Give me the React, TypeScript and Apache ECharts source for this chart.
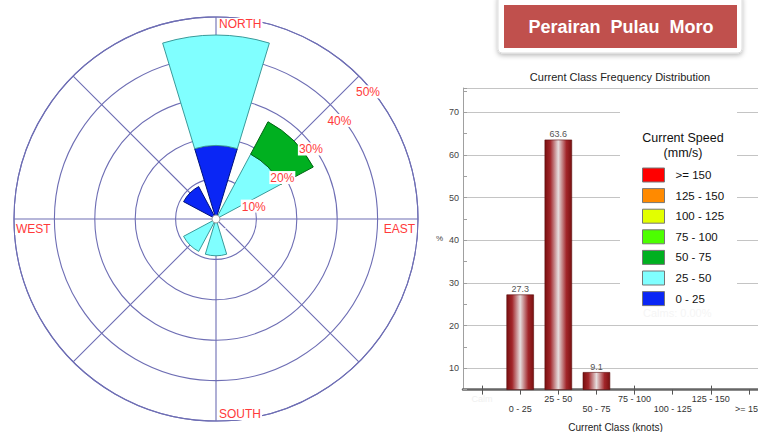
import React, { useEffect, useRef } from 'react';
import * as echarts from 'echarts';

// ---- wind rose data (frequency in % per direction, per current speed class) ----
const directions = ['N', 'NE', 'E', 'SE', 'S', 'SW', 'W', 'NW'];
const speedClasses = ['0 - 25', '25 - 50', '50 - 75', '75 - 100', '100 - 125', '125 - 150', '>= 150'];
const speedColors = ['#0a26f5', '#80ffff', '#00b020', '#4cff00', '#e2ff00', '#ff8a00', '#ff0000'];
const speedBorders = ['#00127a', '#3a9a9a', '#006412', '#2a9000', '#8a9a00', '#a05a00', '#a00000'];
const freq0to25 = [18.2, 0, 0, 0, 0, 0, 0, 9.1];
const freq25to50 = [27.3, 18.2, 0, 0, 9.1, 9.1, 0, 0];
const freq50to75 = [0, 9.1, 0, 0, 0, 0, 0, 0];
const freq75to100 = [0, 0, 0, 0, 0, 0, 0, 0];
const freq100to125 = [0, 0, 0, 0, 0, 0, 0, 0];
const freq125to150 = [0, 0, 0, 0, 0, 0, 0, 0];
const freqOver150 = [0, 0, 0, 0, 0, 0, 0, 0];
const roseFreqs = [freq0to25, freq25to50, freq50to75, freq75to100, freq100to125, freq125to150, freqOver150];
const roseMax = 50;
const roseStep = 10;
const compassNames = ['NORTH', 'EAST', 'SOUTH', 'WEST'];

// ---- class frequency distribution ----
const classCategories = ['Calm', '0 - 25', '25 - 50', '50 - 75', '75 - 100', '100 - 125', '125 - 150', '>= 150'];
const classFrequency = [0, 27.3, 63.6, 9.1, 0, 0, 0, 0];
const freqAxisMin = 5;
const freqAxisMax = 75.7;
const freqAxisStep = 5;

const headerText = 'Perairan  Pulau  Moro';
const barTitle = 'Current Class Frequency Distribution';
const legendTitle = 'Current Speed\n(mm/s)';
const calmsNote = 'Calms: 0.00%';

const FONT = '"Liberation Sans", Arial, sans-serif';
const RED_LABEL = '#ff3a3a';
const GRID_BLUE = '#6e6eb4';

// rose geometry
const CX = 216;
const CY = 219;
const R = 202;

const blank = (v: number) => (v === 0 ? '-' : v);

export default function App() {
  const ref = useRef<HTMLDivElement>(null);

  useEffect(() => {
    if (!ref.current) return;
    const chart = echarts.init(ref.current, undefined, { renderer: 'svg' });

    const roseSeries = speedClasses.map((name, i) => ({
      name,
      type: 'bar',
      coordinateSystem: 'polar',
      polarIndex: 1,
      stack: 'rose',
      barCategoryGap: '25%',
      data: roseFreqs[i].map(blank),
      itemStyle: { color: speedColors[i], borderColor: speedBorders[i], borderWidth: 1 },
      z: 3,
    }));

    const barGradient = new echarts.graphic.LinearGradient(0, 0, 1, 0, [
      { offset: 0, color: '#7a1010' },
      { offset: 0.2, color: '#a2262a' },
      { offset: 0.5, color: '#e6dede' },
      { offset: 0.8, color: '#a2262a' },
      { offset: 1, color: '#7a1010' },
    ]);

    const compassPos: Record<string, any> = {
      NORTH: { x: CX + 2, y: CY - R + 1, align: 'left', verticalAlign: 'top' },
      EAST: { x: CX + R - 2, y: CY + 4, align: 'right', verticalAlign: 'top' },
      SOUTH: { x: CX + 2, y: CY + R - 1, align: 'left', verticalAlign: 'bottom' },
      WEST: { x: CX - R + 1, y: CY + 4, align: 'left', verticalAlign: 'top' },
    };

    const option: any = {
      animation: false,
      backgroundColor: '#ffffff',
      textStyle: { fontFamily: FONT },
      polar: [
        { center: [CX, CY], radius: [0, R] },
        { center: [CX, CY], radius: [0, R] },
        { center: [CX, CY], radius: [0, R] },
      ],
      angleAxis: [
        {
          polarIndex: 0,
          type: 'value',
          min: 0,
          max: 360,
          interval: 45,
          startAngle: 90,
          axisLine: { show: true, lineStyle: { color: GRID_BLUE, width: 1.1 } },
          axisTick: { show: false },
          axisLabel: { show: false },
          splitLine: { show: true, lineStyle: { color: GRID_BLUE, width: 1.1 } },
          z: 0,
        },
        {
          polarIndex: 1,
          type: 'category',
          data: directions,
          startAngle: 112.5,
          axisLine: { show: false },
          axisTick: { show: false },
          axisLabel: { show: false },
          splitLine: { show: false },
        },
        {
          polarIndex: 2,
          type: 'value',
          min: 0,
          max: 360,
          startAngle: 45,
          axisLine: { show: false },
          axisTick: { show: false },
          axisLabel: { show: false },
          splitLine: { show: false },
        },
      ],
      radiusAxis: [
        {
          polarIndex: 0,
          min: 0,
          max: roseMax,
          interval: roseStep,
          axisLine: { show: false },
          axisTick: { show: false },
          axisLabel: { show: false },
          splitLine: { show: true, lineStyle: { color: GRID_BLUE, width: 1.1 } },
          z: 0,
        },
        {
          polarIndex: 1,
          min: 0,
          max: roseMax,
          axisLine: { show: false },
          axisTick: { show: false },
          axisLabel: { show: false },
          splitLine: { show: false },
        },
        {
          polarIndex: 2,
          min: 0,
          max: roseMax,
          interval: roseStep,
          axisLine: { show: false },
          axisTick: { show: false },
          splitLine: { show: false },
          axisLabel: {
            show: true,
            formatter: (v: number) => (v === 0 ? '' : `${v}%`),
            color: RED_LABEL,
            fontSize: 12,
            fontFamily: FONT,
            backgroundColor: '#ffffff',
            padding: [1, 1, 0, 1],
            margin: -13,
            align: 'center',
            verticalAlign: 'top',
          },
          z: 10,
        },
      ],
      grid: {
        left: 463,
        right: -10,
        top: 88,
        bottom: 42.4,
        containLabel: false,
        outerBoundsMode: 'none',
      },
      xAxis: [
        {
          type: 'category',
          data: classCategories.map((c) =>
            c === 'Calm' ? { value: c, textStyle: { color: '#f0f0f0' } } : c
          ),
          axisLine: { show: true, lineStyle: { color: '#666666', width: 2.5 } },
          axisTick: { show: true, alignWithLabel: true, length: 5, lineStyle: { color: '#555555' } },
          axisLabel: {
            interval: 0,
            fontSize: 9,
            color: '#333333',
            lineHeight: 10,
            margin: 4,
            formatter: (v: string, idx: number) => (idx % 2 === 1 ? `\n${v}` : v),
          },
          name: 'Current Class (knots)',
          nameLocation: 'middle',
          nameGap: 33,
          nameTextStyle: { fontSize: 10, color: '#222222', fontFamily: FONT },
          splitLine: { show: false },
        },
        {
          type: 'category',
          data: classCategories,
          position: 'bottom',
          axisLine: { show: false },
          axisTick: { show: true, inside: true, alignWithLabel: true, length: 4, lineStyle: { color: '#555555' } },
          axisLabel: { show: false },
          splitLine: { show: false },
        },
      ],
      yAxis: {
        type: 'value',
        min: freqAxisMin,
        max: freqAxisMax,
        interval: freqAxisStep,
        axisLine: { show: true, lineStyle: { color: '#a0a0a0', width: 1 } },
        axisTick: { show: true, inside: true, length: 4, lineStyle: { color: '#a0a0a0' } },
        axisLabel: {
          fontSize: 9,
          color: '#444444',
          margin: 4,
          formatter: (v: number) => (v % 10 === 0 ? `${v}` : ''),
        },
        splitLine: { show: true, lineStyle: { color: ['rgba(0,0,0,0)', '#c4c4c4'], width: 1.2 } },
        name: '%',
        nameLocation: 'middle',
        nameRotate: 0,
        nameGap: 20,
        nameTextStyle: { fontSize: 8, color: '#444444', padding: [20, 0, 0, 0] },
      },
      legend: {
        orient: 'vertical',
        left: 642,
        top: 167.5,
        padding: 0,
        itemWidth: 22,
        itemHeight: 14,
        itemGap: 5.6,
        icon: 'rect',
        selectedMode: false,
        data: [...speedClasses].reverse(),
        itemStyle: { borderColor: '#777777', borderWidth: 1 },
        textStyle: { fontSize: 11.5, color: '#111111', fontFamily: FONT, padding: [0, 0, 0, 6] },
        z: 10,
      },
      series: [
        ...roseSeries,
        {
          name: 'Frequency',
          type: 'bar',
          xAxisIndex: 0,
          yAxisIndex: 0,
          barWidth: '72%',
          data: classFrequency.map(blank),
          itemStyle: { color: barGradient, borderColor: '#5a0c0c', borderWidth: 0.6 },
          label: {
            show: true,
            position: 'top',
            distance: 1,
            fontSize: 9,
            color: '#555555',
            fontFamily: FONT,
          },
          z: 3,
        },
      ],
      graphic: [
        // center hub of the rose
        {
          type: 'circle',
          shape: { cx: CX, cy: CY, r: 4 },
          style: { fill: '#ffffff', stroke: '#9a9a9a', lineWidth: 1 },
          z: 20,
        },
        ...compassNames.map((name) => ({
          type: 'text',
          x: compassPos[name].x,
          y: compassPos[name].y,
          z: 20,
          style: {
            text: name,
            fill: RED_LABEL,
            font: `12px ${FONT}`,
            align: compassPos[name].align,
            verticalAlign: compassPos[name].verticalAlign,
            backgroundColor: '#ffffff',
            padding: [0, 1],
          },
        })),
        // header banner
        {
          type: 'rect',
          shape: { x: 498, y: -6, width: 244, height: 59, r: 4 },
          style: {
            fill: '#ffffff',
            stroke: '#dddddd',
            lineWidth: 1,
            shadowBlur: 5,
            shadowOffsetY: 2,
            shadowColor: 'rgba(0,0,0,0.28)',
          },
          z: 20,
        },
        {
          type: 'rect',
          shape: { x: 504, y: 5, width: 233, height: 43 },
          style: { fill: '#c0504d' },
          z: 21,
        },
        {
          type: 'text',
          x: 621,
          y: 26.5,
          z: 22,
          style: {
            text: headerText,
            fill: '#ffffff',
            font: `bold 18px ${FONT}`,
            align: 'center',
            verticalAlign: 'middle',
          },
        },
        {
          type: 'text',
          x: 620,
          y: 77,
          z: 20,
          style: {
            text: barTitle,
            fill: '#222222',
            font: `11px ${FONT}`,
            align: 'center',
            verticalAlign: 'middle',
          },
        },
        // legend panel
        {
          type: 'rect',
          shape: { x: 620, y: 112, width: 117, height: 208 },
          style: { fill: '#ffffff' },
          z: 5,
        },
        {
          type: 'text',
          x: 683,
          y: 145,
          z: 20,
          style: {
            text: legendTitle,
            fill: '#111111',
            font: `12.5px ${FONT}`,
            lineHeight: 15,
            align: 'center',
            verticalAlign: 'middle',
          },
        },
        {
          type: 'text',
          x: 643,
          y: 313,
          z: 20,
          style: {
            text: calmsNote,
            fill: '#f5f5f5',
            font: `11px ${FONT}`,
            align: 'left',
            verticalAlign: 'middle',
          },
        },
      ],
    };

    chart.setOption(option);
    return () => chart.dispose();
  }, []);

  return (
    <div
      ref={ref}
      style={{ position: 'absolute', left: 0, top: 0, width: 758, height: 432 }}
    />
  );
}
